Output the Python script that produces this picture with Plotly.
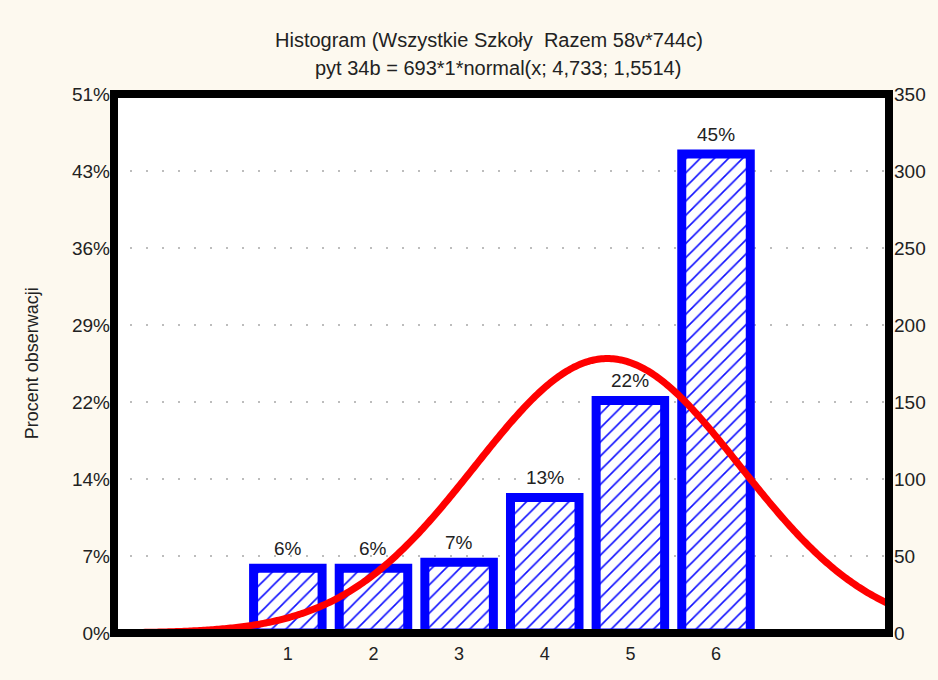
import numpy as np
import plotly.graph_objects as go

# ---- data ----
categories = [1, 2, 3, 4, 5, 6]
counts = [42, 42, 46, 88, 151, 311]
bar_labels = ["6%", "6%", "7%", "13%", "22%", "45%"]

right_ticks = [0, 50, 100, 150, 200, 250, 300, 350]
left_tick_labels = ["0%", "7%", "14%", "22%", "29%", "36%", "43%", "51%"]

# fitted normal curve as stated in the title: 693*1*normal(x; 4,733; 1,5514)
n_total = 693
bin_width = 1
mu = 4.733
sigma = 1.5514

x_range = [-1.03, 8.02]

xs = np.linspace(x_range[0], x_range[1], 400)
ys = n_total * bin_width * np.exp(-0.5 * ((xs - mu) / sigma) ** 2) / (sigma * np.sqrt(2 * np.pi))

FONT = "Liberation Sans, Arial, sans-serif"
TXT = "#222222"

fig = go.Figure()
fig.add_trace(go.Bar(
    x=categories, y=counts, width=0.8,
    marker=dict(color="white",
                line=dict(color="#0000FF", width=9),
                pattern=dict(shape="/", fgcolor="#1010FF", bgcolor="white",
                             fgopacity=1, size=10, solidity=0.16)),
    showlegend=False, hoverinfo="skip",
))
fig.add_trace(go.Scatter(
    x=xs, y=ys, mode="lines",
    line=dict(color="#FF0000", width=7, simplify=False),
    showlegend=False, hoverinfo="skip",
))
# invisible trace for right axis
fig.add_trace(go.Scatter(x=[None], y=[None], yaxis="y2", showlegend=False))

for c, v, t in zip(categories, counts, bar_labels):
    fig.add_annotation(x=c, y=v, text=t, showarrow=False, yanchor="bottom",
                       yshift=7, font=dict(size=19, color=TXT, family=FONT))

fig.add_annotation(xref="paper", yref="paper", x=0.484, y=1.100,
                   xanchor="center", yanchor="middle",
                   text="Histogram (Wszystkie Szkoły&nbsp; Razem 58v*744c)",
                   showarrow=False, font=dict(size=20, color=TXT, family=FONT))
fig.add_annotation(xref="paper", yref="paper", x=0.496, y=1.048,
                   xanchor="center", yanchor="middle",
                   text="pyt 34b = 693*1*normal(x; 4,733; 1,5514)",
                   showarrow=False, font=dict(size=20, color=TXT, family=FONT))
fig.add_annotation(xref="paper", yref="paper", x=-0.106, y=0.50,
                   xanchor="center", yanchor="middle",
                   text="Procent obserwacji", textangle=-90,
                   showarrow=False, font=dict(size=18, color=TXT, family=FONT))

fig.add_shape(type="rect", xref="paper", yref="paper", x0=0, y0=0, x1=1, y1=1,
              line=dict(color="black", width=8), layer="above")

fig.update_layout(
    width=938, height=680,
    margin=dict(l=114, r=49, t=94, b=47),
    paper_bgcolor="#FDF9EF", plot_bgcolor="white",
    bargap=0.2,
    xaxis=dict(range=x_range, tickvals=categories, ticktext=[str(c) for c in categories],
               showgrid=False, zeroline=False, showline=False, ticks="",
               ticklabelstandoff=8,
               tickfont=dict(size=18, color=TXT, family=FONT)),
    yaxis=dict(range=[0, 350], tickvals=right_ticks, ticktext=left_tick_labels,
               showgrid=True, gridcolor="#BDBDBD", gridwidth=1.5, griddash="2px,14px",
               zeroline=False, showline=False, ticks="", ticklabelstandoff=3,
               tickfont=dict(size=19, color=TXT, family=FONT)),
    yaxis2=dict(range=[0, 350], tickvals=right_ticks, ticktext=[str(t) for t in right_ticks],
                overlaying="y", side="right", showgrid=False, zeroline=False,
                showline=False, ticks="", ticklabelstandoff=4,
                tickfont=dict(size=19, color=TXT, family=FONT)),
)

fig.write_html("out.html", config={"displayModeBar": False},
               post_script="document.body.style.margin='0';")
